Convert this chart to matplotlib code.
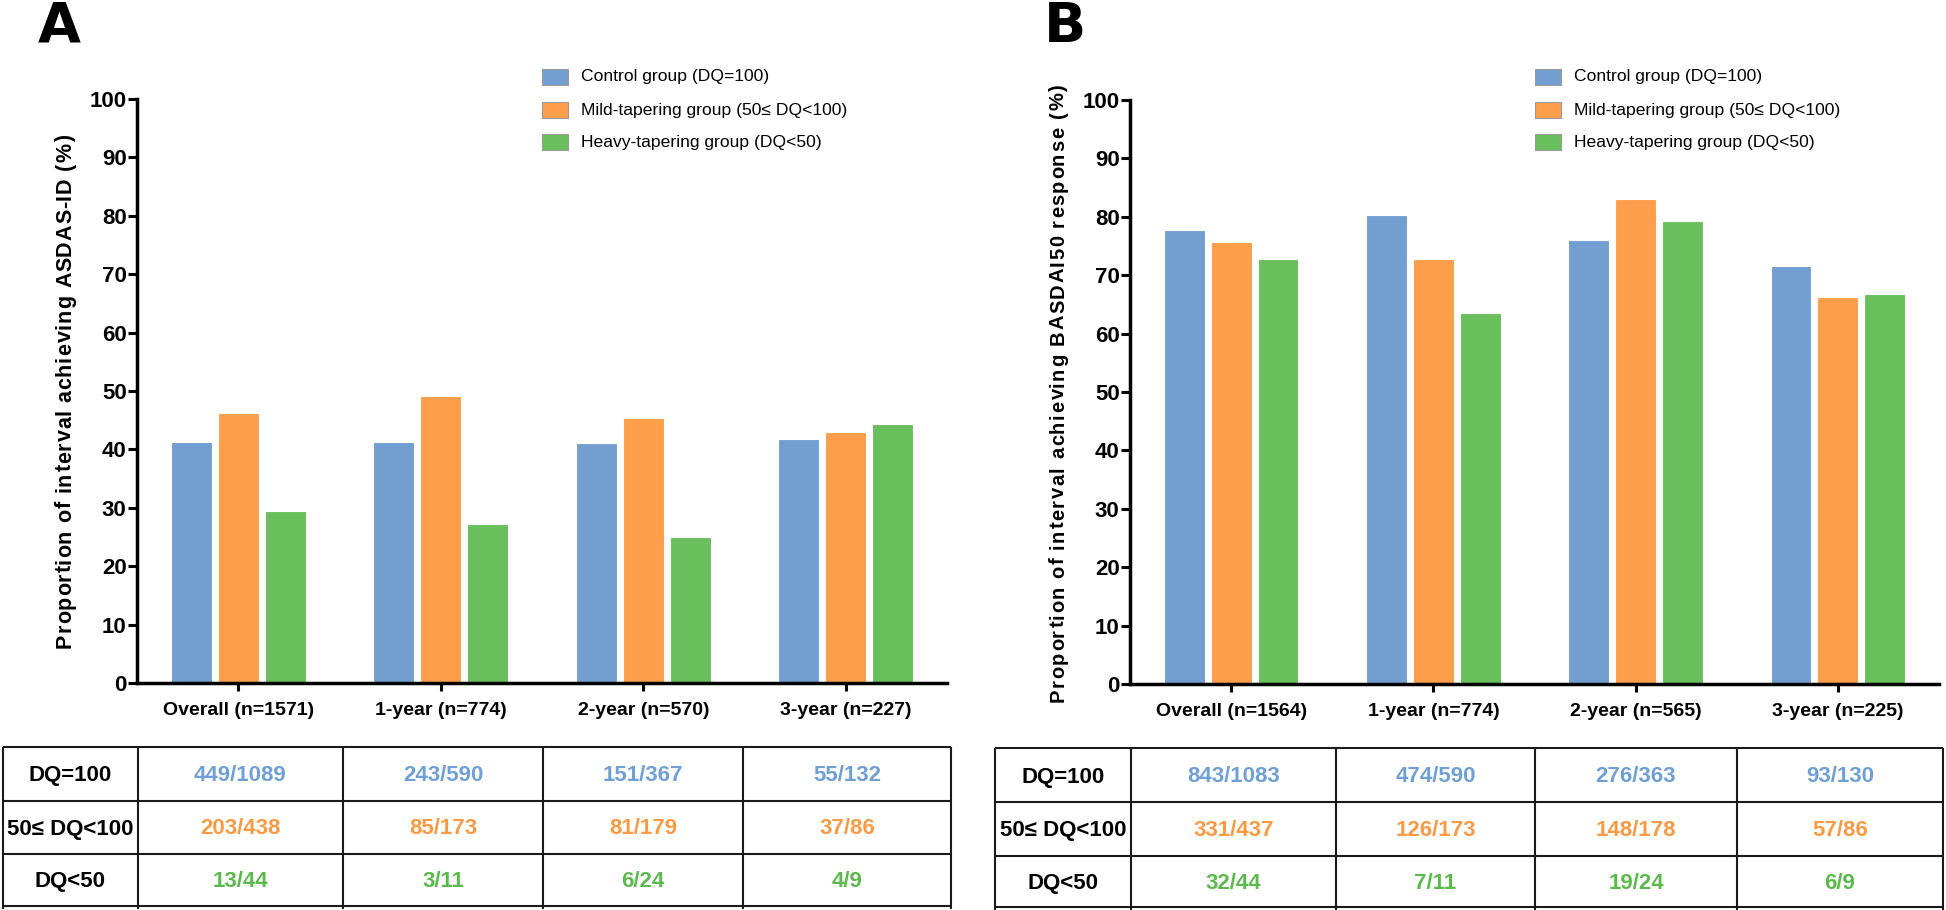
import matplotlib
matplotlib.use('Agg')
import matplotlib.pyplot as plt
import numpy as np
from matplotlib.patches import Rectangle
from matplotlib.font_manager import FontProperties, fontManager

plt.rcParams['font.family'] = ['Liberation Sans', 'DejaVu Sans']

W, H = 1946, 910

# ---------------- data ----------------
groups = ['Control group (DQ=100)', 'Mild-tapering group (50≤ DQ<100)', 'Heavy-tapering group (DQ<50)']
row_labels = ['DQ=100', '50≤ DQ<100', 'DQ<50']
bar_colors = ['#729fcf', '#fe9e4b', '#68bf5c']
txt_colors = ['#6f9fd4', '#fb9a45', '#5cb94e']

cats_a = ['Overall (n=1571)', '1-year (n=774)', '2-year (n=570)', '3-year (n=227)']
ctrl_a = [41.2, 41.2, 41.1, 41.7]
mild_a = [46.3, 49.1, 45.3, 43.0]
heavy_a = [29.5, 27.3, 25.0, 44.4]
tab_ctrl_a = ['449/1089', '243/590', '151/367', '55/132']
tab_mild_a = ['203/438', '85/173', '81/179', '37/86']
tab_heavy_a = ['13/44', '3/11', '6/24', '4/9']
ylabel_a = 'Proportion of interval achieving ASDAS-ID (%)'

cats_b = ['Overall (n=1564)', '1-year (n=774)', '2-year (n=565)', '3-year (n=225)']
ctrl_b = [77.8, 80.3, 76.0, 71.5]
mild_b = [75.7, 72.8, 83.1, 66.3]
heavy_b = [72.7, 63.6, 79.2, 66.7]
tab_ctrl_b = ['843/1083', '474/590', '276/363', '93/130']
tab_mild_b = ['331/437', '126/173', '148/178', '57/86']
tab_heavy_b = ['32/44', '7/11', '19/24', '6/9']
ylabel_b = 'Proportion of interval achieving BASDAI50 response (%)'

yticks = list(range(0, 101, 10))

# ---------------- figure ----------------
fig = plt.figure(figsize=(W / 100, H / 100), dpi=100)
renderer = fig.canvas.get_renderer()

installed = {f.name for f in fontManager.ttflist}
if 'Liberation Sans Narrow' in installed:
    legend_font = dict(family=['Liberation Sans Narrow', 'DejaVu Sans'], fontsize=15)
else:
    legend_font = dict(family=['Liberation Sans', 'DejaVu Sans'], fontsize=12.6)


def rect(l, r, top, bottom):
    return [l / W, 1 - bottom / H, (r - l) / W, (bottom - top) / H]


def panel(box, cats, series):
    ax = fig.add_axes(rect(*box))
    x = np.arange(len(cats))
    step, width = 0.2315, 0.202
    for i, vals in enumerate(series):
        ax.bar(x + (i - 1) * step, vals, width=width, color=bar_colors[i],
               edgecolor='white', linewidth=0.8, label=groups[i], zorder=2)
    ax.set_xlim(-0.5, 3.5)
    ax.set_ylim(0, 100)
    ax.set_yticks(yticks)
    ax.set_xticks(x)
    ax.set_xticklabels(cats, fontsize=14, fontweight='bold')
    for t in ax.get_yticklabels():
        t.set_fontsize(16)
        t.set_fontweight('bold')
    for s in ['top', 'right']:
        ax.spines[s].set_visible(False)
    for s in ['left', 'bottom']:
        ax.spines[s].set_linewidth(2.5)
    ax.tick_params(axis='y', length=6.5, width=2.2, pad=1)
    ax.tick_params(axis='x', length=6, width=2.2, pad=8)
    return ax


ax_a = panel((137, 947, 99, 683), cats_a, [ctrl_a, mild_a, heavy_a])
ax_b = panel((1130, 1939, 100, 684), cats_b, [ctrl_b, mild_b, heavy_b])

# overlay for panel letters, legends, y labels and tables
ov = fig.add_axes([0, 0, 1, 1])
ov.set_xlim(0, W)
ov.set_ylim(H, 0)
ov.axis('off')


def text_w(s, prop):
    w, _, _ = renderer.get_text_width_height_descent(s, prop, ismath=False)
    return w


def spaced_vlabel(text, x_base, y_center, length, size):
    prop = FontProperties(family=['Liberation Sans', 'DejaVu Sans'], weight='bold', size=size)
    wH = text_w('H', prop)
    pos = [0.0] + [text_w(text[:k] + 'H', prop) - wH for k in range(1, len(text))]
    natural = text_w(text, prop)
    sp = (length - natural) / (len(text) - 1)
    y0 = y_center + length / 2
    for k, ch in enumerate(text):
        if ch == ' ':
            continue
        ov.text(x_base, y0 - (pos[k] + k * sp), ch, fontproperties=prop,
                rotation=90, rotation_mode='anchor', ha='left', va='baseline')


spaced_vlabel(ylabel_a, 71, 391, 513, 15.5)
spaced_vlabel(ylabel_b, 1064, 393, 618, 14.5)

ov.text(38, 42, 'A', fontsize=40, fontweight='bold', ha='left', va='baseline',
        family=['DejaVu Sans'])
ov.text(1044, 42, 'B', fontsize=40, fontweight='bold', ha='left', va='baseline',
        family=['DejaVu Sans'])

legend_rows = [77, 110, 142]
for px, tx in [(542, 581), (1535, 1574)]:
    for i, g in enumerate(groups):
        y = legend_rows[i]
        ov.add_patch(Rectangle((px, y - 8), 26, 16, facecolor=bar_colors[i],
                               edgecolor='#9a9a9a', linewidth=0.8))
        ov.text(tx, y, g, ha='left', va='center', **legend_font)


def table(cols, rows, cells):
    for c in cols:
        ov.plot([c, c], [rows[0], rows[-1] + 3], color='#1a1a1a', lw=1.5,
                solid_capstyle='butt')
    for r in rows:
        ov.plot([cols[0], cols[-1]], [r, r], color='#1a1a1a', lw=1.5,
                solid_capstyle='butt')
    for i, lab in enumerate(row_labels):
        yc = (rows[i] + rows[i + 1]) / 2 + 2
        ov.text((cols[0] + cols[1]) / 2, yc, lab, fontsize=16, fontweight='bold',
                ha='center', va='center', color='black')
        for j, v in enumerate(cells[i]):
            ov.text((cols[j + 1] + cols[j + 2]) / 2, yc, v, fontsize=16,
                    fontweight='bold', ha='center', va='center', color=txt_colors[i])


table([3, 138, 343, 543, 743, 951], [747, 800.5, 853.5, 906],
      [tab_ctrl_a, tab_mild_a, tab_heavy_a])
table([995, 1131, 1336, 1535, 1737, 1943], [748, 802, 855.5, 907],
      [tab_ctrl_b, tab_mild_b, tab_heavy_b])

fig.savefig('out.png', dpi=100)
